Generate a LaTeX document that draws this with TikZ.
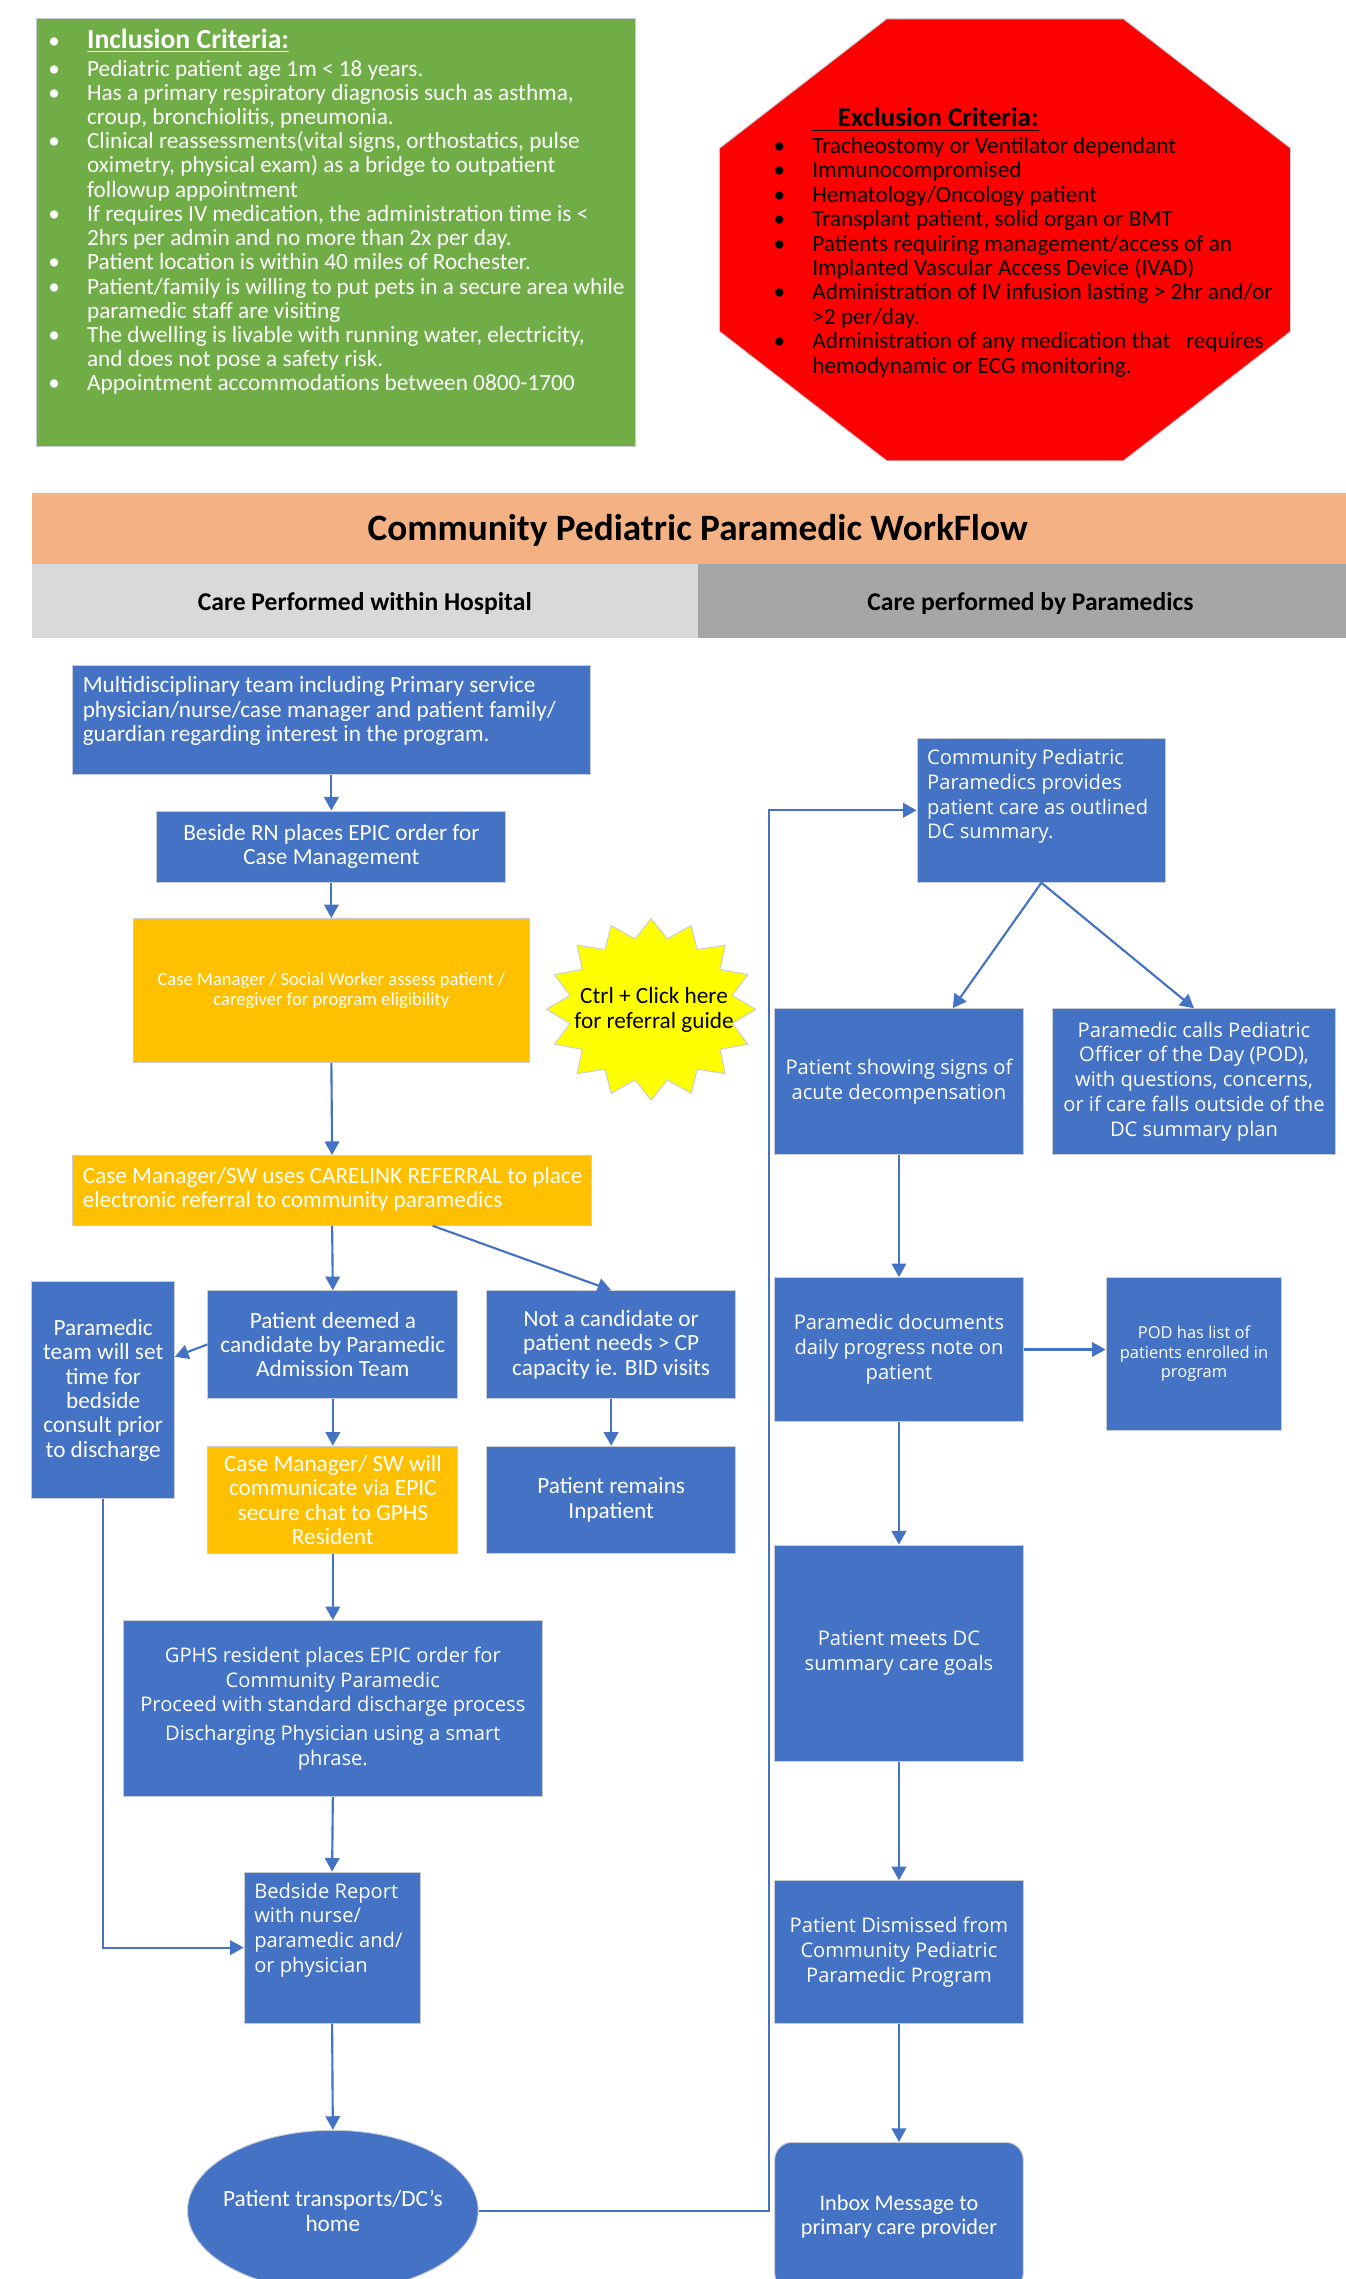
\documentclass[tikz,border=0pt]{standalone}
\usepackage{fontspec}
\setmainfont{Carlito}
\newfontfamily\segoe{Open Sans}
\usetikzlibrary{arrows.meta,calc,shapes.geometric}
\definecolor{mblue}{HTML}{4472C4}
\definecolor{morange}{HTML}{FFC000}
\definecolor{mgreen}{HTML}{70AD47}
\definecolor{mred}{HTML}{FF0000}
\definecolor{myellow}{HTML}{FFFF00}
\definecolor{mpeach}{HTML}{F4B183}
\definecolor{mlgray}{HTML}{D9D9D9}
\definecolor{mdgray}{HTML}{A6A6A6}
\definecolor{medge}{HTML}{C8CCD4}
\newcommand\calf{\fontsize{12}{12.6}\selectfont}
\newcommand\segf{\segoe\fontsize{10.4}{12.8}\selectfont}
\newcommand\bul[1]{\makebox[20pt][l]{\textbullet}#1}
\newcommand\ind[1]{\hspace*{20pt}#1}
\newcommand\mkbox[7]{\node[#1, minimum width={(#5-#3)*0.75pt}, minimum height={(#6-#4)*0.75pt}] (#2) at ({(#3+#5)/2},{(#4+#6)/2}) {#7};}
\begin{document}
\begin{tikzpicture}[x=0.75pt,y=-0.75pt,
  box/.style={rectangle, draw=medge, line width=0.5pt, inner sep=0pt, text=white, align=center},
  bbox/.style={box, fill=mblue},
  obox/.style={box, fill=morange},
  plain/.style={inner sep=0pt},
  arr/.style={draw=mblue, line width=1.1pt, -{Triangle[width=7.5pt,length=7pt]}},
  ln/.style={draw=mblue, line width=1.1pt},
]
\useasboundingbox (0,0) rectangle (926,1568);
\clip (0,0) rectangle (926,1568);
\fill[white] (0,0) rectangle (926,1568);

% ---------- Inclusion criteria ----------
\mkbox{box, fill=mgreen, line width=0.6pt}{incbox}{25}{13}{437}{307}{}
\node[plain, anchor=north west, text=white, align=left, font=\fontsize{12}{12.5}\selectfont] (inc) at (33,20) {%
\bul{{\fontsize{14.3}{12.5}\selectfont\bfseries\underline{Inclusion Criteria:}}}\\[1.5pt]
\bul{Pediatric patient age 1m < 18 years.}\\
\bul{Has a primary respiratory diagnosis such as asthma,}\\
\ind{croup, bronchiolitis, pneumonia.}\\
\bul{Clinical reassessments(vital signs, orthostatics, pulse}\\
\ind{oximetry, physical exam) as a bridge to outpatient}\\
\ind{followup appointment}\\
\bul{If requires IV medication, the administration time is <}\\
\ind{2hrs per admin and no more than 2x per day.}\\
\bul{Patient location is within 40 miles of Rochester.}\\
\bul{Patient/family is willing to put pets in a secure area while}\\
\ind{paramedic staff are visiting}\\
\bul{The dwelling is livable with running water, electricity,}\\
\ind{and does not pose a safety risk.}\\
\bul{Appointment accommodations between 0800-1700}};

% ---------- Exclusion criteria ----------
\fill[mred, draw=medge, line width=0.5pt] (610,13) -- (773,13) -- (888,102) -- (888,228) -- (773,317) -- (610,317) -- (495,228) -- (495,102) -- cycle;
\node[plain, anchor=north west, text=black, align=left, font=\fontsize{12}{12.6}\selectfont] (exc) at (532,74) {%
\ind{{\fontsize{14}{12.5}\selectfont\bfseries\underline{\hspace*{13pt}Exclusion Criteria:}}}\\[1pt]
\bul{Tracheostomy or Ventilator dependant}\\
\bul{Immunocompromised}\\
\bul{Hematology/Oncology patient}\\
\bul{Transplant patient, solid organ or BMT}\\
\bul{Patients requiring management/access of an}\\
\ind{Implanted Vascular Access Device (IVAD)}\\
\bul{Administration of IV infusion lasting > 2hr and/or}\\
\ind{>2 per/day.}\\
\bul{Administration of any medication that \ \ requires}\\
\ind{hemodynamic or ECG monitoring.}};

% ---------- Title bands ----------
\mkbox{plain, fill=mpeach}{band}{22}{339}{926}{388}{}
\node[plain, font=\fontsize{19.2}{22}\selectfont\bfseries] (title) at (480,365) {Community Pediatric Paramedic WorkFlow};
\mkbox{plain, fill=mlgray}{laneL}{22}{388}{480}{439}{}
\mkbox{plain, fill=mdgray}{laneR}{480}{388}{926}{439}{}
\node[plain, font=\fontsize{13.2}{15}\selectfont\bfseries] (laneLt) at (251,415) {Care Performed within Hospital};
\node[plain, font=\fontsize{13.2}{15}\selectfont\bfseries] (laneRt) at (709,415) {Care performed by Paramedics};

% ---------- Hospital column ----------
\mkbox{bbox}{b1}{50}{458}{406}{533}{}
\node[plain, anchor=north west, text=white, align=left, font=\calf] (b1t) at ($(b1.north west)+(7,7.5)$) {Multidisciplinary team including Primary service\\physician/nurse/case manager and patient family/\\guardian regarding interest in the program.};
\mkbox{bbox, font=\calf}{b2}{108}{558}{348}{607}{Beside RN places EPIC order for\\Case Management}
\mkbox{obox, font=\fontsize{9.6}{10.5}\selectfont}{b3}{92}{632}{364}{731}{Case Manager / Social Worker assess patient /\\caregiver for program eligibility}

% starburst
\filldraw[fill=myellow, draw=medge, line width=0.5pt] plot[samples at={0,...,31}, variable=\t] ({448+(72-(15*mod(\t,2)))*cos(90+11.25*\t)}, {694.5-(62.5-(13*mod(\t,2)))*sin(90+11.25*\t)}) -- cycle;
\node[plain, align=center, font=\fontsize{12}{12.8}\selectfont] (star) at (450,695) {Ctrl + Click here\\for referral guide};

\mkbox{obox}{b5}{50}{795}{407}{843}{}
\node[plain, anchor=north west, text=white, align=left, font=\calf] (b5t) at ($(b5.north west)+(7,8)$) {Case Manager/SW uses CARELINK REFERRAL to place\\electronic referral to community paramedics};

\mkbox{bbox, font=\calf}{b7}{143}{888}{315}{962}{Patient deemed a\\candidate by Paramedic\\Admission Team}
\mkbox{bbox, font=\calf}{b8}{335}{888}{506}{962}{Not a candidate or\\patient needs > CP\\capacity ie. BID visits}
\mkbox{bbox, font=\calf}{b9}{22}{882}{120}{1031}{Paramedic\\team will set\\time for\\bedside\\consult prior\\to discharge}
\mkbox{obox, font=\calf}{b10}{143}{995}{315}{1069}{Case Manager/ SW will\\communicate via EPIC\\secure chat to GPHS\\Resident}
\mkbox{bbox, font=\calf}{b11}{335}{995}{506}{1069}{Patient remains\\Inpatient}
\mkbox{bbox, font=\segf}{b12}{85}{1115}{373}{1236}{GPHS resident places EPIC order for\\Community Paramedic\\Proceed with standard discharge process\\[2pt]Discharging Physician using a smart\\phrase.}
\mkbox{bbox}{b13}{168}{1288}{289}{1392}{}
\node[plain, anchor=north west, text=white, align=left, font=\segf] (b13t) at ($(b13.north west)+(7,7.5)$) {Bedside Report\\with nurse/\\paramedic and/\\or physician};
\node[ellipse, fill=mblue, draw=medge, line width=0.5pt, inner sep=0pt, minimum width=150pt, minimum height=83pt] (ell) at (229,1521) {};
\node[plain, text=white, align=center, font=\calf] (ellt) at (ell.center) {Patient transports/DC’s\\home};

% ---------- Paramedic column ----------
\mkbox{bbox}{b15}{631}{508}{802}{607}{}
\node[plain, anchor=north west, text=white, align=left, font=\segf] (b15t) at ($(b15.north west)+(7,7.5)$) {Community Pediatric\\Paramedics provides\\patient care as outlined\\DC summary.};
\mkbox{bbox, font=\segf}{b16}{533}{694}{704}{794}{Patient showing signs of\\acute decompensation}
\mkbox{bbox, font=\segf}{b17}{724}{694}{919}{794}{Paramedic calls Pediatric\\Officer of the Day (POD),\\with questions, concerns,\\or if care falls outside of the\\DC summary plan}
\mkbox{bbox, font=\segf}{b18}{533}{879}{704}{978}{Paramedic documents\\daily progress note on\\patient}
\mkbox{bbox, font=\segoe\fontsize{8.5}{10.2}\selectfont}{b19}{761}{879}{882}{984}{POD has list of\\patients enrolled in\\program}
\mkbox{bbox, font=\segf}{b20}{533}{1063}{704}{1212}{Patient meets DC\\summary care goals}
\mkbox{bbox, font=\segf}{b21}{533}{1294}{704}{1392}{Patient Dismissed from\\Community Pediatric\\Paramedic Program}
\mkbox{bbox, rounded corners=9pt, font=\fontsize{11.5}{12.6}\selectfont}{b22}{533}{1474}{704}{1576}{Inbox Message to\\primary care provider}

% ---------- connectors ----------
\draw[arr] (b1.south) -- (b2.north);
\draw[arr] (b2.south) -- (b3.north);
\draw[arr] (b3.south) -- (b5.north);
\draw[arr] (b5.south) -- (b7.north);
\draw[arr] ($(b5.south west)+(248,0)$) -- (b8.north);
\draw[arr] (b7.west) -- ($(b9.east)+(0,-23)$);
\draw[arr] (b7.south) -- (b10.north);
\draw[arr] (b8.south) -- (b11.north);
\draw[arr] (b10.south) -- (b12.north);
\draw[arr] (b12.south) -- (b13.north);
\draw[arr] (b9.south) |- (b13.west);
\draw[arr] (b13.south) -- (ell.north);
\coordinate (turn) at (529,1521);
\draw[arr] (ell.east) -- (turn) |- (b15.west);
\draw[arr] (b15.south) -- ($(b16.north)+(37,0)$);
\draw[arr] (b15.south) -- (b17.north);
\draw[arr] (b16.south) -- (b18.north);
\draw[arr] (b18.east) -- (b19.west |- b18.east);
\draw[arr] (b18.south) -- (b20.north);
\draw[arr] (b20.south) -- (b21.north);
\draw[arr] (b21.south) -- (b22.north);
\end{tikzpicture}
\end{document}
